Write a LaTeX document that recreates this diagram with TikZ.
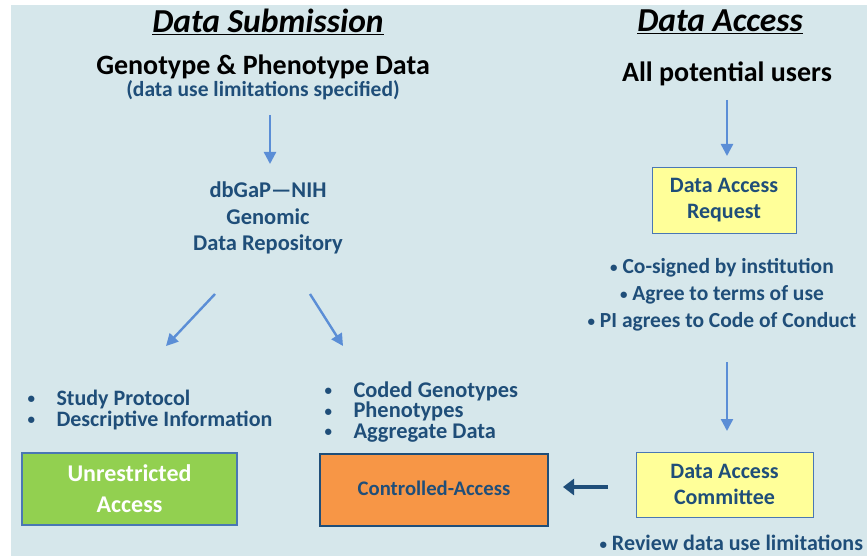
\documentclass[tikz,border=0pt]{standalone}
\usepackage{fontspec}
\setmainfont{Carlito}
\usetikzlibrary{arrows.meta}
\definecolor{bg}{HTML}{D6E7EB}
\definecolor{dblue}{HTML}{1F4E79}
\definecolor{lblue}{HTML}{5B8ED6}
\definecolor{boxedge}{HTML}{4A77B4}
\definecolor{ygreen}{HTML}{92D050}
\definecolor{orng}{HTML}{F79646}
\definecolor{lyellow}{HTML}{FFFF99}
\newcommand{\smbul}{\raisebox{1.5pt}{\fontsize{15}{15}\selectfont•}}
\tikzset{
  title/.style={font=\fontsize{33.5}{36}\selectfont\bfseries\itshape, text=black},
  head/.style={font=\fontsize{28}{30}\selectfont\bfseries, text=black},
  btext/.style={font=\fontsize{22.5}{26.5}\selectfont\bfseries, text=dblue, align=center},
  flow/.style={draw=lblue, line width=2.4pt, -{Triangle[length=12pt,width=12pt]}},
  colbox/.style={draw=boxedge, line width=2pt, align=center, inner sep=0pt},
  ybox/.style={draw=boxedge, line width=1pt, fill=lyellow, align=center, inner sep=0pt,
    font=\fontsize{22}{26}\selectfont\bfseries, text=dblue},
}
\begin{document}
\begin{tikzpicture}[x=1pt,y=-1pt]
\useasboundingbox (0,0) rectangle (867,556);
\fill[bg] (11,5) rectangle (867,556);
% titles
\node[title] (ts) at (268,22) {\underline{Data Submission}};
\node[title] (ta) at (720,22) {\underline{Data Access}};
\node[head] (gp) at (263,67) {Genotype \& Phenotype Data};
\node[font=\fontsize{21.5}{24}\selectfont\bfseries, text=dblue] (dul) at (263,90) {(data use limitations specified)};
\node[head] (au) at (727,74) {All potential users};
% repository
\node[btext] (db) at (268,218) {dbGaP—NIH\\Genomic\\Data Repository};
\coordinate (a1s) at (270,115);
\coordinate (a1e) at (270,164);
\draw[flow] (a1s) -- (a1e);
\coordinate (l1s) at (215,294);
\coordinate (l1e) at (166,346);
\draw[flow] (l1s) -- (l1e);
\coordinate (r1s) at (310,294);
\coordinate (r1e) at (343,346);
\draw[flow] (r1s) -- (r1e);
% left bullets
\node[font=\fontsize{22}{21}\selectfont\bfseries, text=dblue, anchor=west, align=left] (lb) at (24,410)
  {\makebox[29pt][l]{\smbul}Study Protocol\\\makebox[29pt][l]{\smbul}Descriptive Information};
\node[colbox, fill=ygreen, minimum width=215pt, minimum height=72pt,
  font=\fontsize{24}{31}\selectfont\bfseries, text=white] (ua) at (129.5,489) {Unrestricted\\Access};
% right bullets
\node[font=\fontsize{22.4}{20.5}\selectfont\bfseries, text=dblue, anchor=west, align=left] (rb) at (321,412)
  {\makebox[29pt][l]{\smbul}Coded Genotypes\\\makebox[29pt][l]{\smbul}Phenotypes\\\makebox[29pt][l]{\smbul}Aggregate Data};
\node[draw=dblue, line width=2pt, fill=orng, minimum width=228pt, minimum height=72pt, inner sep=0pt,
  font=\fontsize{20.7}{22}\selectfont\bfseries, text=dblue] (ca) at (434,490) {\raisebox{3pt}{Controlled-Access}};
% right column
\coordinate (a2s) at (727,100);
\draw[flow] (a2s) -- (727,156) coordinate (a2e);
\node[ybox, minimum width=144pt, minimum height=65pt] (dar) at (724,200.5) {Data Access\\Request};
\node[font=\fontsize{21.5}{27}\selectfont\bfseries, text=dblue, align=center] (cond) at (722,295)
  {\smbul\ Co-signed by institution\\\smbul\ Agree to terms of use\\\smbul\ PI agrees to Code of Conduct};
\coordinate (a3s) at (727,362);
\coordinate (a3e) at (727,431);
\draw[flow] (a3s) -- (a3e);
\node[ybox, minimum width=177pt, minimum height=65pt] (dac) at (724.5,484.5) {Data Access\\Committee};
\draw[draw=dblue, line width=4.5pt, -{Triangle[length=11pt,width=16pt]}] (608,487) -- (563,487);
\node[font=\fontsize{22}{24}\selectfont\bfseries, text=dblue, anchor=west] (rev) at (596,543) {\smbul\ Review data use limitations};
\end{tikzpicture}
\end{document}
